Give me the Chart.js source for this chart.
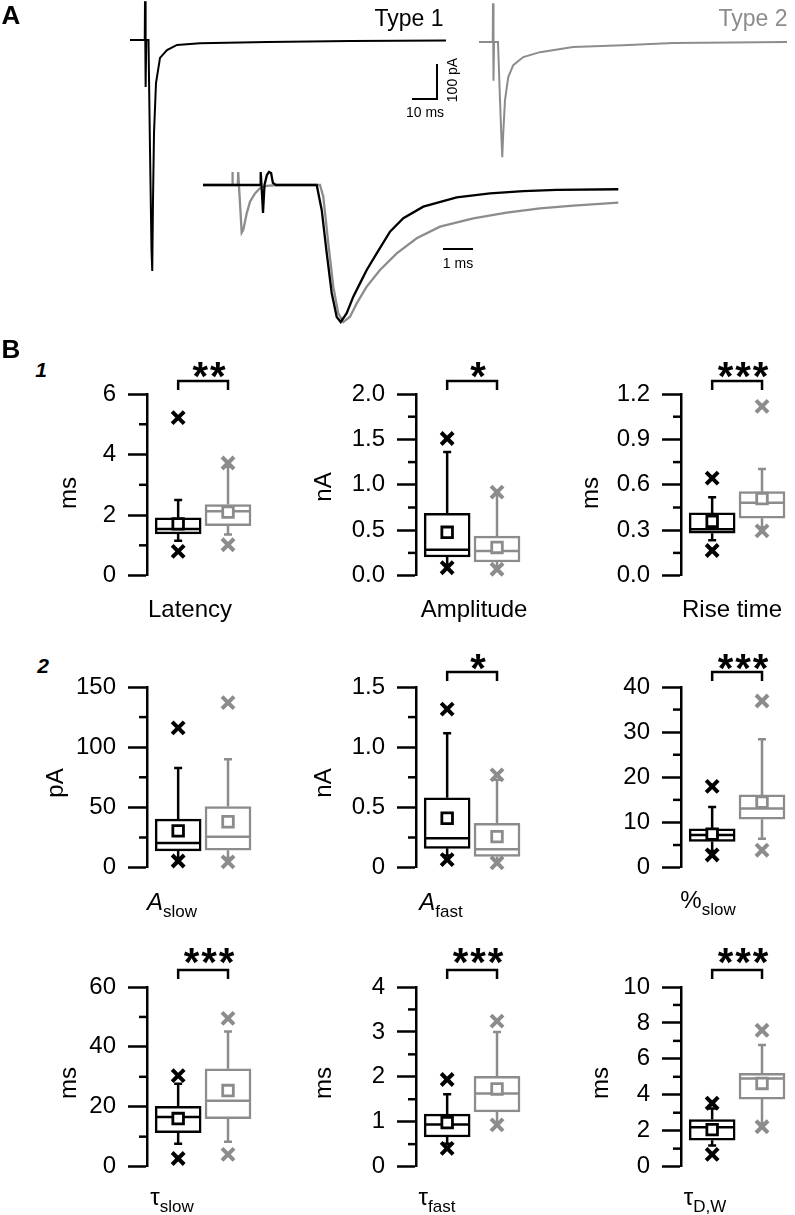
<!DOCTYPE html>
<html>
<head>
<meta charset="utf-8">
<script src="https://cdn.jsdelivr.net/npm/chart.js@4.4.0/dist/chart.umd.min.js"></script>
<style>
  body { margin: 0; background: #fff; overflow: hidden; }
  #fig { position: relative; width: 795px; height: 1215px; overflow: hidden;
         font-family: 'Liberation Sans', Arial, sans-serif; color: #000; }
  canvas { position: absolute; }
  .t { position: absolute; transform: translate(-50%, -50%); white-space: nowrap; line-height: 1; font-size: 24px; }
  .rot { transform: translate(-50%, -50%) rotate(-90deg); }
  .small { font-size: 14px; }
  .stars { font-weight: bold; font-size: 40px; letter-spacing: 2px; }
  .sub { font-size: 17px; position: relative; top: 7px; }
  .gray { color: #8c8c8c; }
</style>
</head>
<body>
<div id="fig">
  <canvas id="traces" width="795" height="335" style="left:0;top:0"></canvas>

  <div class="t" style="left:11px;top:15px;font-weight:bold;font-size:26px">A</div>
  <div class="t" style="left:11px;top:349px;font-weight:bold;font-size:26px">B</div>
  <div class="t" style="left:41px;top:369px;font-weight:bold;font-style:italic;font-size:21px">1</div>
  <div class="t" style="left:43px;top:665px;font-weight:bold;font-style:italic;font-size:21px">2</div>

  <div class="t" style="left:409px;top:18px;font-size:23px">Type 1</div>
  <div class="t gray" style="left:753px;top:18px;font-size:23px">Type 2</div>
  <div class="t small" style="left:425px;top:112px">10 ms</div>
  <div class="t small rot" style="left:452px;top:80px">100 pA</div>
  <div class="t small" style="left:458px;top:263px">1 ms</div>
</div>

<script>
// ---- panel A: example traces (time in ms, current in pA) ----
const type1Time = [0, 5.9, 6.0, 6.25, 6.5, 7.4, 8.0, 8.6, 8.9, 9.2, 9.6, 10.4, 12.0, 14.8, 18.8, 28, 55, 88, 126.4];
const type1Curr = [0, 0, 111, -134, 0, 0, -314, -600, -660, -457, -266, -123, -51, -29, -14, -9, -6, -3, -1.4];
const type2Time = [0, 5.5, 5.6, 5.8, 6.0, 7.6, 8.4, 9.0, 9.3, 9.7, 10.4, 11.7, 13.7, 17.7, 24.4, 37.6, 57.6, 77.6, 123.2];
const type2Curr = [0, 0, 111, -111, 0, 0, -166, -280, -329, -260, -166, -100, -66, -43, -29, -14, -9, -3, 0];

// inset: normalised to peak
const insetBlackTime = [0, 1.9, 1.923, 1.95, 2.0, 2.05, 2.13, 2.2, 2.27, 2.33, 2.43, 3.79, 3.957, 4.123, 4.29, 4.457, 4.59,
  4.79, 5.01, 5.233, 5.457, 5.79, 6.233, 6.677, 7.343, 8.457, 9.567, 10.677, 11.79, 13.843];
const insetBlackCurr = [0, 0, 0.095, 0, -0.204, 0, 0.073, 0.095, 0.088, 0.015, 0, 0, -0.182, -0.496, -0.788, -0.964, -1.0,
  -0.936, -0.815, -0.718, -0.62, -0.499, -0.341, -0.243, -0.158, -0.09, -0.061, -0.044, -0.036, -0.031];
const insetGrayTime = [0, 0.967, 0.98, 0.993, 1.16, 1.173, 1.29, 1.343, 1.457, 1.567, 1.733, 1.9, 2.123, 2.457, 3.9, 4.01,
  4.177, 4.343, 4.51, 4.677, 4.9, 5.123, 5.457, 5.9, 6.457, 7.123, 7.9, 9.01, 10.123, 11.233, 12.343, 13.843];
const insetGrayCurr = [0, 0, 0.095, 0, 0, 0.095, -0.348, -0.328, -0.207, -0.122, -0.061, -0.024, -0.007, 0, 0, -0.085,
  -0.426, -0.742, -0.937, -1.0, -0.961, -0.864, -0.742, -0.62, -0.499, -0.389, -0.304, -0.243, -0.202, -0.17, -0.151, -0.129];

// ---- panel B: box plots, per group [lower whisker, Q1, median, Q3, upper whisker] ----
const latencyStats = [[1.15, 1.38, 1.54, 1.91, 2.50], [1.36, 1.65, 2.13, 2.35, 3.60]];
const latencyMean = [1.71, 2.10];
const latencyExtremes = [[0.80, 5.22], [1.02, 3.72]];
const latencyTicks = ['0', '', '2', '', '4', '', '6'];

const amplitudeStats = [[0.12, 0.205, 0.285, 0.685, 1.36], [0.10, 0.15, 0.27, 0.435, 0.90]];
const amplitudeMean = [0.477, 0.31];
const amplitudeExtremes = [[0.087, 1.51], [0.07, 0.92]];
const amplitudeTicks = ['0.0', '', '0.5', '', '1.0', '', '1.5', '', '2.0'];

const riseStats = [[0.234, 0.28, 0.306, 0.414, 0.517], [0.32, 0.379, 0.482, 0.555, 0.704]];
const riseMean = [0.358, 0.509];
const riseExtremes = [[0.166, 0.644], [0.296, 1.118]];
const riseTicks = ['0.0', '', '0.3', '', '0.6', '', '0.9', '', '1.2'];

const aSlowStats = [[8, 13.9, 20.5, 40.2, 82.7], [8, 14.4, 25.7, 50.7, 90]];
const aSlowMean = [30.5, 38.1];
const aSlowExtremes = [[5.5, 116], [4.7, 137]];
const aSlowTicks = ['0', '', '50', '', '100', '', '150'];

const aFastStats = [[0.10, 0.16, 0.244, 0.58, 1.116], [0.06, 0.092, 0.152, 0.368, 0.73]];
const aFastMean = [0.41, 0.257];
const aFastExtremes = [[0.066, 1.316], [0.04, 0.77]];
const aFastTicks = ['0', '', '0.5', '', '1.0', '', '1.5'];

const pctSlowStats = [[3.7, 5.8, 7.2, 8.6, 13.4], [6.4, 10.7, 13.1, 16.1, 28.4]];
const pctSlowMean = [7.4, 14.5];
const pctSlowExtremes = [[2.8, 18.0], [3.85, 36.9]];
const pctSlowTicks = ['0', '', '10', '', '20', '', '30', '', '40'];

const tauSlowStats = [[7.6, 11.3, 16.6, 20.1, 27.7], [8.3, 16.0, 22.0, 32.7, 45.1]];
const tauSlowMean = [16.05, 25.4];
const tauSlowExtremes = [[2.7, 30.4], [4.1, 49.5]];
const tauSlowTicks = ['0', '', '20', '', '40', '', '60'];

const tauFastStats = [[0.51, 0.66, 0.94, 1.17, 1.61], [0.98, 1.22, 1.63, 2.01, 3.0]];
const tauFastMean = [0.98, 1.73];
const tauFastExtremes = [[0.405, 1.94], [0.93, 3.24]];
const tauFastTicks = ['0', '', '1', '', '2', '', '3', '', '4'];

const tauDWStats = [[1.17, 1.47, 2.19, 2.62, 3.23], [2.4, 3.76, 4.9, 5.19, 6.77]];
const tauDWMean = [2.06, 4.63];
const tauDWExtremes = [[0.68, 3.53], [2.22, 7.59]];
const tauDWTicks = ['0', '', '2', '', '4', '', '6', '', '8', '', '10'];

const BLACK = '#000000';
const GRAY = '#8c8c8c';
const GROUP_COLORS = [BLACK, GRAY];
const FONT = "'Liberation Sans', Arial, sans-serif";

const fig = document.getElementById('fig');

function zip(xs, ys) {
    return xs.map((x, i) => ({ x: x, y: ys[i] }));
}

// scale range so that value 0 lands on originPx and unit = pxPerUnit
function range(originPx, pxPerUnit, sizePx, flip) {
    if (flip) return { min: -(sizePx - originPx) / pxPerUnit, max: originPx / pxPerUnit };
    return { min: -originPx / pxPerUnit, max: (sizePx - originPx) / pxPerUnit };
}

// ---------------- panel A ----------------
const scaleBars = {
    id: 'scaleBars',
    afterDatasetsDraw(chart) {
        const ctx = chart.ctx;
        const s = chart.scales;
        ctx.save();
        ctx.strokeStyle = BLACK;
        ctx.lineWidth = 2;
        // 10 ms / 100 pA bar
        const x1 = s.xT1.getPixelForValue(122.8), x0 = s.xT1.getPixelForValue(112.8);
        const y0 = s.yT1.getPixelForValue(-168.6), y1 = s.yT1.getPixelForValue(-68.6);
        ctx.beginPath();
        ctx.moveTo(x0, y0); ctx.lineTo(x1, y0); ctx.lineTo(x1, y1);
        ctx.stroke();
        // 1 ms bar for the inset
        const yi = s.yIn.getPixelForValue(-0.467);
        ctx.beginPath();
        ctx.moveTo(s.xIn.getPixelForValue(8.0), yi);
        ctx.lineTo(s.xIn.getPixelForValue(9.0), yi);
        ctx.stroke();
        ctx.restore();
    }
};

const W = 795, H = 335;
new Chart(document.getElementById('traces'), {
    type: 'line',
    data: {
        datasets: [
            { data: zip(type1Time, type1Curr), xAxisID: 'xT1', yAxisID: 'yT1', borderColor: BLACK },
            { data: zip(type2Time, type2Curr), xAxisID: 'xT2', yAxisID: 'yT2', borderColor: GRAY },
            { data: zip(insetBlackTime, insetBlackCurr), xAxisID: 'xIn', yAxisID: 'yIn', borderColor: BLACK, borderWidth: 2.3 },
            { data: zip(insetGrayTime, insetGrayCurr), xAxisID: 'xIn', yAxisID: 'yIn', borderColor: GRAY, borderWidth: 2.3 }
        ]
    },
    options: {
        responsive: false,
        animation: false,
        events: [],
        layout: { padding: 0 },
        elements: { point: { radius: 0 }, line: { borderWidth: 2, tension: 0 } },
        plugins: { legend: { display: false }, tooltip: { enabled: false } },
        scales: {
            xT1: Object.assign({ type: 'linear', display: false }, range(130, 2.5, W, false)),
            yT1: Object.assign({ type: 'linear', display: false, position: 'left' }, range(40, 0.35, H, true)),
            xT2: Object.assign({ type: 'linear', display: false }, range(479, 2.5, W, false)),
            yT2: Object.assign({ type: 'linear', display: false, position: 'left' }, range(42, 0.35, H, true)),
            xIn: Object.assign({ type: 'linear', display: false }, range(203, 30, W, false)),
            yIn: Object.assign({ type: 'linear', display: false, position: 'left' }, range(185, 137, H, true))
        }
    },
    plugins: [scaleBars]
});

// ---------------- panel B ----------------
const AXIS_W = 110, PAD_TOP = 44, PAD_BOTTOM = 16, PLOT_W = 114;
const FIRST_OFFSET = 35, GROUP_STEP = 56, BOX_W = 46;

const boxParts = {
    id: 'boxParts',
    // whiskers and median, right after the boxes are filled
    afterDatasetDraw(chart, args, o) {
        if (args.index !== 0) return;
        const { ctx } = chart;
        const x = chart.scales.x, y = chart.scales.y;
        ctx.save();
        ctx.lineWidth = 2.5;
        o.stats.forEach((s, g) => {
            const cx = x.getPixelForValue(g + 1);
            ctx.strokeStyle = GROUP_COLORS[g];
            ctx.beginPath();
            ctx.moveTo(cx, y.getPixelForValue(s[3])); ctx.lineTo(cx, y.getPixelForValue(s[4]));
            ctx.moveTo(cx - 4, y.getPixelForValue(s[4])); ctx.lineTo(cx + 4, y.getPixelForValue(s[4]));
            ctx.moveTo(cx, y.getPixelForValue(s[1])); ctx.lineTo(cx, y.getPixelForValue(s[0]));
            ctx.moveTo(cx - 4, y.getPixelForValue(s[0])); ctx.lineTo(cx + 4, y.getPixelForValue(s[0]));
            ctx.moveTo(cx - BOX_W / 2 + 1, y.getPixelForValue(s[2])); ctx.lineTo(cx + BOX_W / 2 - 1, y.getPixelForValue(s[2]));
            ctx.stroke();
        });
        ctx.restore();
    },
    afterDraw(chart, args, o) {
        const { ctx, chartArea } = chart;
        const x = chart.scales.x, y = chart.scales.y;
        ctx.save();
        ctx.strokeStyle = BLACK;
        ctx.lineWidth = 2.5;
        // short minor ticks
        y.ticks.forEach((t, i) => {
            if (o.labels[i] !== '') return;
            const py = y.getPixelForValue(t.value);
            ctx.beginPath();
            ctx.moveTo(chartArea.left - 8, py); ctx.lineTo(chartArea.left, py);
            ctx.stroke();
        });
        // significance bracket
        if (o.stars) {
            const by = chartArea.top - o.bracketGap;
            const xa = x.getPixelForValue(1), xb = x.getPixelForValue(2);
            ctx.beginPath();
            ctx.moveTo(xa, by + 9); ctx.lineTo(xa, by); ctx.lineTo(xb, by); ctx.lineTo(xb, by + 9);
            ctx.stroke();
        }
        ctx.restore();
    }
};

function boxChart(axisX, topPx, heightPx, stats, means, extremes, labels, stars, bracketGap) {
    const cv = document.createElement('canvas');
    const cw = AXIS_W + PLOT_W, ch = PAD_TOP + heightPx + PAD_BOTTOM;
    cv.width = cw; cv.height = ch;
    cv.style.left = (axisX - AXIS_W) + 'px';
    cv.style.top = (topPx - PAD_TOP) + 'px';
    fig.appendChild(cv);

    const xMin = 1 - FIRST_OFFSET / GROUP_STEP;
    const yMax = parseFloat(labels[labels.length - 1]);

    new Chart(cv, {
        type: 'bar',
        data: {
            datasets: [
                {
                    type: 'bar',
                    order: 3,
                    data: stats.map((s, g) => ({ x: g + 1, y: [s[1], s[3]] })),
                    backgroundColor: '#ffffff',
                    borderColor: GROUP_COLORS,
                    borderWidth: 2.5,
                    borderSkipped: false,
                    barThickness: BOX_W,
                    clip: false
                },
                {
                    type: 'line',
                    order: 2,
                    data: means.map((m, g) => ({ x: g + 1, y: m })),
                    showLine: false,
                    pointStyle: 'rect',
                    pointRadius: 7.5,
                    pointBorderWidth: 2.8,
                    pointBorderColor: GROUP_COLORS,
                    pointBackgroundColor: '#ffffff',
                    clip: false
                },
                {
                    type: 'line',
                    order: 1,
                    data: extremes.flatMap((e, g) => e.map(v => ({ x: g + 1, y: v }))),
                    showLine: false,
                    pointStyle: 'crossRot',
                    pointRadius: 8.5,
                    pointBorderWidth: 4,
                    pointBorderColor: [BLACK, BLACK, GRAY, GRAY],
                    clip: false
                }
            ]
        },
        options: {
            responsive: false,
            animation: false,
            events: [],
            layout: { padding: { top: PAD_TOP, bottom: PAD_BOTTOM, left: 0, right: 0 } },
            plugins: {
                legend: { display: false },
                tooltip: { enabled: false },
                boxParts: { stats: stats, labels: labels, stars: stars, bracketGap: bracketGap }
            },
            scales: {
                x: { type: 'linear', display: false, offset: false, min: xMin, max: xMin + PLOT_W / GROUP_STEP },
                y: {
                    type: 'linear',
                    min: 0,
                    max: yMax,
                    afterFit(scale) { scale.width = AXIS_W; },
                    border: { display: true, color: BLACK, width: 2.5 },
                    grid: {
                        drawOnChartArea: false,
                        drawTicks: true,
                        tickLength: 19,
                        tickWidth: 2.5,
                        tickColor: (c) => labels[c.index] !== '' ? BLACK : 'rgba(0,0,0,0)'
                    },
                    ticks: {
                        count: labels.length,
                        autoSkip: false,
                        padding: 12,
                        color: BLACK,
                        font: { family: FONT, size: 24 },
                        callback: (v, i) => labels[i]
                    }
                }
            }
        },
        plugins: [boxParts]
    });
}

const COL_X = [147, 416, 681];
const ROW_TOP = [394, 687, 987];
const ROW_H = [192, 191, 190];
const ROW_GAP = [13, 15, 17];

boxChart(COL_X[0], ROW_TOP[0], ROW_H[0], latencyStats, latencyMean, latencyExtremes, latencyTicks, '**', ROW_GAP[0]);
boxChart(COL_X[1], ROW_TOP[0], ROW_H[0], amplitudeStats, amplitudeMean, amplitudeExtremes, amplitudeTicks, '*', ROW_GAP[0]);
boxChart(COL_X[2], ROW_TOP[0], ROW_H[0], riseStats, riseMean, riseExtremes, riseTicks, '***', ROW_GAP[0]);
boxChart(COL_X[0], ROW_TOP[1], ROW_H[1], aSlowStats, aSlowMean, aSlowExtremes, aSlowTicks, '', ROW_GAP[1]);
boxChart(COL_X[1], ROW_TOP[1], ROW_H[1], aFastStats, aFastMean, aFastExtremes, aFastTicks, '*', ROW_GAP[1]);
boxChart(COL_X[2], ROW_TOP[1], ROW_H[1], pctSlowStats, pctSlowMean, pctSlowExtremes, pctSlowTicks, '***', ROW_GAP[1]);
boxChart(COL_X[0], ROW_TOP[2], ROW_H[2], tauSlowStats, tauSlowMean, tauSlowExtremes, tauSlowTicks, '***', ROW_GAP[2]);
boxChart(COL_X[1], ROW_TOP[2], ROW_H[2], tauFastStats, tauFastMean, tauFastExtremes, tauFastTicks, '***', ROW_GAP[2]);
boxChart(COL_X[2], ROW_TOP[2], ROW_H[2], tauDWStats, tauDWMean, tauDWExtremes, tauDWTicks, '***', ROW_GAP[2]);

// text labels of panel B
function label(html, x, y, cls) {
    const d = document.createElement('div');
    d.className = 't' + (cls ? ' ' + cls : '');
    d.style.left = x + 'px';
    d.style.top = y + 'px';
    d.innerHTML = html;
    fig.appendChild(d);
}

const starMid = COL_X.map(ax => ax + FIRST_OFFSET + GROUP_STEP / 2);
label('**', starMid[0], 376, 'stars');
label('*', starMid[1], 376, 'stars');
label('***', starMid[2], 376, 'stars');
label('*', starMid[1], 668, 'stars');
label('***', starMid[2], 668, 'stars');
label('***', starMid[0], 962, 'stars');
label('***', starMid[1], 962, 'stars');
label('***', starMid[2], 962, 'stars');

label('ms', 68, 493, 'rot');
label('nA', 323, 487, 'rot');
label('ms', 590, 493, 'rot');
label('pA', 55, 783, 'rot');
label('nA', 323, 783, 'rot');
label('ms', 68, 1083, 'rot');
label('ms', 323, 1083, 'rot');
label('ms', 600, 1083, 'rot');

label('Latency', 190, 609);
label('Amplitude', 474, 609);
label('Rise time', 732, 609);
label('<i>A</i><span class="sub">slow</span>', 172, 902);
label('<i>A</i><span class="sub">fast</span>', 441, 902);
label('%<span class="sub">slow</span>', 708, 900);
label('τ<span class="sub">slow</span>', 172, 1197);
label('τ<span class="sub">fast</span>', 437, 1197);
label('τ<span class="sub">D,W</span>', 705, 1197);
</script>
</body>
</html>
